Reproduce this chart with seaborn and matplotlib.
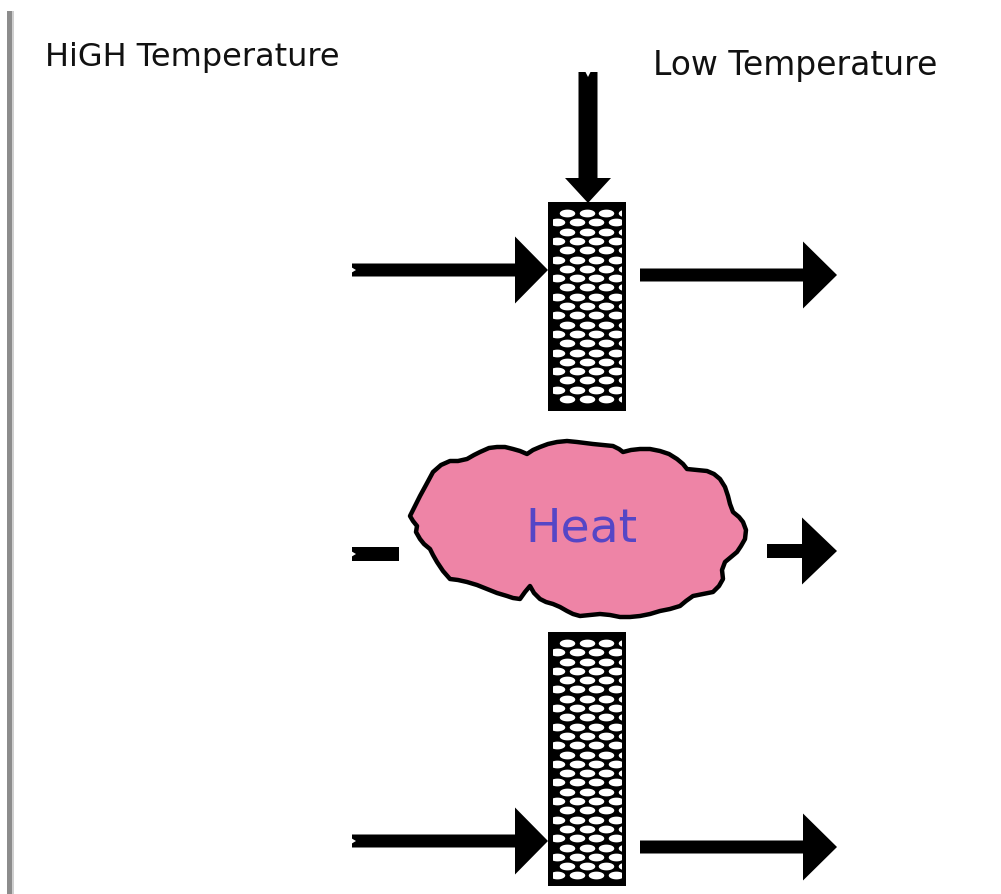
import numpy as np
import seaborn as sns
import matplotlib.pyplot as plt
from matplotlib.patches import Rectangle, Polygon
from matplotlib.path import Path

# labels
left_label = 'HiGH Temperature'
right_label = 'Low Temperature'
cloud_label = 'Heat'

# wall pieces (left, top, right, bottom) in picture pixels
walls = [(548, 203, 626, 412), (548, 633, 626, 887)]

# arrows: (x0, y0, x1, y1, shaft width, head width, head length)
arrows = [(588, 73, 588, 204, 19, 46, 25),
          (352, 271, 548, 271, 13, 67, 33),
          (640, 276, 837, 276, 13, 67, 34),
          (767, 552, 837, 552, 14, 67, 35),
          (352, 842, 548, 842, 13, 67, 33),
          (640, 848, 837, 848, 13, 67, 34)]
stub = (352, 548, 399, 562)

# heat cloud outline
cloud_x = [410, 420, 426, 433, 441, 450, 458, 467, 474, 480, 489, 497, 505, 513, 520,
           527, 533, 540, 548, 557, 567, 577, 585, 593, 603, 613, 619, 623, 631, 640,
           650, 660, 669, 677, 683, 687, 697, 707, 714, 720, 725, 728, 730, 733, 739,
           743, 746, 745, 741, 737, 731, 725, 722, 723, 719, 713, 703, 693, 686, 680,
           670, 660, 650, 640, 630, 620, 610, 600, 590, 580, 573, 567, 560, 553, 546,
           540, 534, 530, 525, 520, 513, 507, 497, 487, 477, 467, 458, 450, 443, 437,
           433, 430, 424, 420, 416, 417, 413]
cloud_y = [517, 497, 486, 473, 466, 462, 462, 460, 456, 453, 449, 448, 448, 450, 452,
           455, 451, 448, 445, 443, 442, 443, 444, 445, 446, 447, 450, 453, 451, 450,
           450, 452, 455, 460, 465, 470, 471, 472, 475, 480, 488, 497, 505, 513, 518,
           523, 531, 540, 547, 553, 558, 563, 571, 580, 587, 593, 595, 597, 602, 607,
           610, 612, 615, 617, 618, 618, 616, 615, 616, 617, 615, 612, 608, 605, 603,
           600, 594, 587, 593, 600, 599, 597, 594, 590, 586, 583, 581, 580, 572, 563,
           556, 550, 545, 540, 533, 527, 522]

sns.set_theme(style='white')
plt.rcParams['font.family'] = ['DejaVu Sans']

fig = plt.figure(figsize=(10.01, 8.95), dpi=100)
ax = fig.add_axes([0, 0, 1, 1])
ax.set_xlim(0, 1001)
ax.set_ylim(895, 0)
ax.axis('off')

# grey left rule
ax.add_patch(Rectangle((7, 12), 5, 890, color='#8c8c8c', lw=0))
ax.add_patch(Rectangle((12, 12), 2, 890, color='#cfcfcf', lw=0))

# the wall with its checker pattern
t = np.linspace(0, 2 * np.pi, 40)
oval = Path(np.column_stack([np.cos(t), 0.5 * np.sin(t)]))
for (x0, y0, x1, y1) in walls:
    ax.add_patch(Rectangle((x0, y0), x1 - x0, y1 - y0, facecolor='black',
                           edgecolor='black', lw=0))
    rows = np.arange(y0 + 11, y1 - 6, 9.3)
    px, py = [], []
    for i, yy in enumerate(rows):
        start = x0 + 19 if i % 2 == 0 else x0 + 9
        for xx in np.arange(start, x1 + 10, 19.5):
            px.append(xx)
            py.append(yy)
    sns.scatterplot(x=px, y=py, ax=ax, marker=oval, s=125, color='white',
                    linewidth=0, legend=False)
    clip = Rectangle((x0 + 5, y0 + 5), x1 - x0 - 10, y1 - y0 - 10,
                     transform=ax.transData)
    ax.collections[-1].set_clip_path(clip)

# arrows, with the small notch at the tail
for (x0, y0, x1, y1, w, hw, hl) in arrows:
    ax.arrow(x0, y0, x1 - x0, y1 - y0, width=w, head_width=hw, head_length=hl,
             length_includes_head=True, color='black', lw=0)
    if x0 == 352 or y0 == 73:
        if y0 == y1:
            notch = [(x0 - 1, y0 - 3), (x0 + 4, y0), (x0 - 1, y0 + 3)]
        else:
            notch = [(x0 - 3, y0 - 1), (x0, y0 + 5), (x0 + 3, y0 - 1)]
        ax.add_patch(Polygon(notch, closed=True, color='white', lw=0))
ax.add_patch(Rectangle((stub[0], stub[1]), stub[2] - stub[0], stub[3] - stub[1],
                       color='black', lw=0))
sy = (stub[1] + stub[3]) / 2
ax.add_patch(Polygon([(stub[0] - 1, sy - 3), (stub[0] + 4, sy),
                      (stub[0] - 1, sy + 3)], closed=True, color='white', lw=0))

# cloud
ax.add_patch(Polygon(np.column_stack([cloud_x, cloud_y]), closed=True,
                     facecolor='#ee84a6', edgecolor='black', lw=3.2,
                     joinstyle='round'))
ax.text(581, 542, cloud_label, fontsize=34, color='#5546c6', ha='center',
        va='baseline')

ax.text(45, 66, left_label, fontsize=23, color='#111111', ha='left',
        va='baseline')
ax.text(653, 75, right_label, fontsize=23.8, color='#111111', ha='left',
        va='baseline')

fig.savefig('out.png', dpi=100)
